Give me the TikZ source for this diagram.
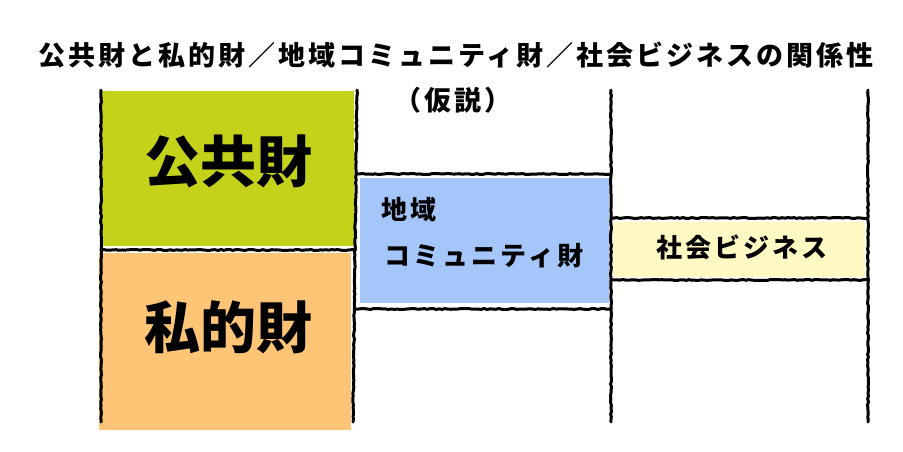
\documentclass[tikz,border=0pt]{standalone}
\usepackage{fontspec}
\setmainfont{Noto Sans CJK JP}
\newfontfamily\jpwide[LetterSpace=11]{Noto Sans CJK JP}
\newfontfamily\jpmid[LetterSpace=12]{Noto Sans CJK JP}
\newfontfamily\jpbig{Noto Sans CJK JP}
\usetikzlibrary{decorations.pathmorphing}
\definecolor{pubgreen}{HTML}{C5D21A}
\definecolor{privorange}{HTML}{FFC577}
\definecolor{commblue}{HTML}{A5C6FA}
\definecolor{bizyellow}{HTML}{FFFAC3}
\begin{document}
\begin{tikzpicture}[x=1pt,y=-1pt,
  sketch/.style={line width=3pt, line cap=round, line join=round, decorate,
    decoration={random steps, segment length=3pt, amplitude=0.5pt}},
  panel/.style={draw=none, inner sep=0pt, anchor=north west},
  biglabel/.style={font=\jpbig\bfseries\fontsize{56}{60}\selectfont, inner sep=0pt},
  boxlabel/.style={font=\jpmid\bfseries\fontsize{26}{30}\selectfont, inner sep=0pt},
  titlelabel/.style={font=\jpwide\bfseries\fontsize{27}{30}\selectfont, inner sep=0pt}]
\useasboundingbox (0,0) rectangle (903,451);
% filled panels
\node[panel, fill=pubgreen, minimum width=253pt, minimum height=155pt] (green) at (101,91) {};
\node[panel, fill=privorange, minimum width=252pt, minimum height=177pt] (orange) at (99,253) {};
\node[panel, fill=commblue, minimum width=249pt, minimum height=125pt] (blue) at (360,178) {};
\node[panel, fill=bizyellow, minimum width=252pt, minimum height=55pt] (yellow) at (613,222) {};
% line end points
\coordinate (v1t) at (101,90);  \coordinate (v1b) at (101,422);
\coordinate (v2t) at (357,90);  \coordinate (v2b) at (353,422);
\coordinate (v3t) at (611,90);  \coordinate (v3b) at (611,422);
\coordinate (v4t) at (868,90);  \coordinate (v4b) at (868,422);
\coordinate (h1a) at (101,250); \coordinate (h1b) at (355,250);
\coordinate (h2a) at (357,174); \coordinate (h2b) at (611,174);
\coordinate (h3a) at (355,309); \coordinate (h3b) at (611,309);
\coordinate (h4a) at (611,218); \coordinate (h4b) at (868,218);
\coordinate (h5a) at (611,280); \coordinate (h5b) at (868,280);
% sketchy lines
\draw[sketch] (v1t) -- (v1b);
\draw[sketch] (v2t) -- (v2b);
\draw[sketch] (v3t) -- (v3b);
\draw[sketch] (v4t) -- (v4b);
\draw[sketch] (h1a) -- (h1b);
\draw[sketch] (h2a) -- (h2b);
\draw[sketch] (h3a) -- (h3b);
\draw[sketch] (h4a) -- (h4b);
\draw[sketch] (h5a) -- (h5b);
% labels
\node[titlelabel] (title) at (456,55) {公共財と私的財／地域コミュニティ財／社会ビジネスの関係性};
\node[titlelabel] (subtitle) at (453,100) {（仮説）};
\node[biglabel] (pub) at (228,161) {公共財};
\node[biglabel] (priv) at (228,327) {私的財};
\node[boxlabel, anchor=west] (comm1) at (381,210) {地域};
\node[boxlabel, anchor=west] (comm2) at (384,256) {コミュニティ財};
\node[boxlabel] (biz) at (742,247) {社会ビジネス};
\end{tikzpicture}
\end{document}
